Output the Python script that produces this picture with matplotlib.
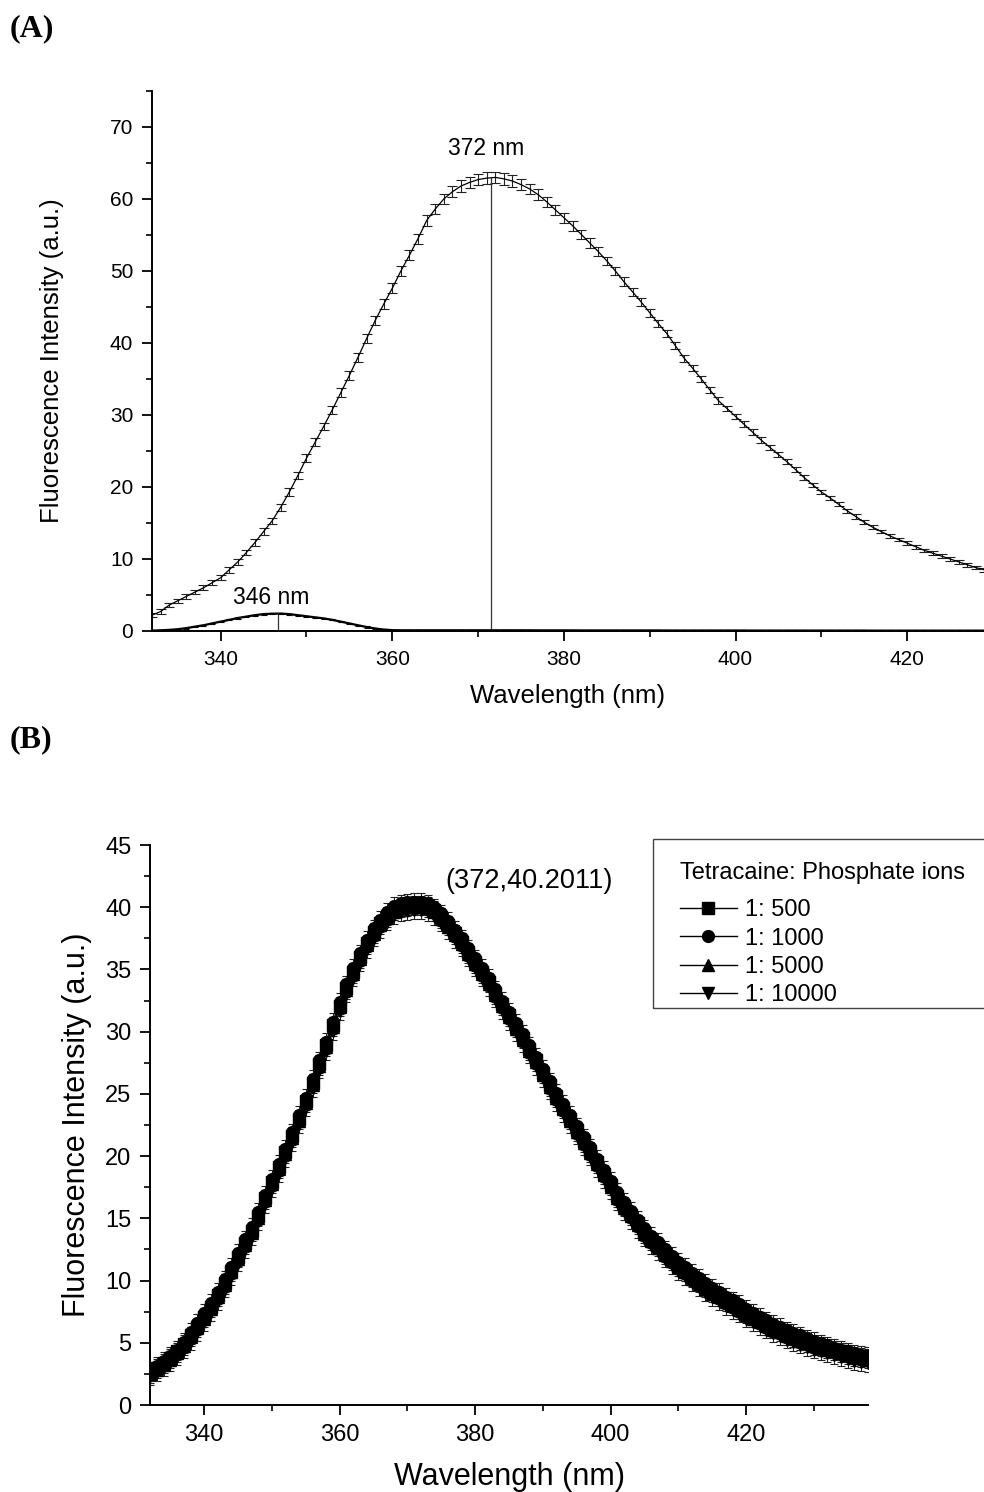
import matplotlib
matplotlib.use("Agg")
import matplotlib.pyplot as plt
from matplotlib.patches import Rectangle
from matplotlib.ticker import MultipleLocator

plt.rcParams['font.family'] = ['Liberation Sans', 'DejaVu Sans']

# ---- panel A data (1 nm steps, 332-429 nm) ----
wl_a = list(range(332, 430))
a_main = [2.2, 2.7, 3.6, 4.2, 4.8, 5.4, 6.0, 6.7, 7.4, 8.5,
          9.6, 10.9, 12.3, 13.8, 15.3, 17.2, 19.3, 21.6, 24.0, 26.2,
          28.4, 30.7, 33.1, 35.5, 38.0, 40.6, 43.1, 45.4, 47.6, 50.0,
          52.2, 54.5, 57.0, 58.6, 60.0, 61.0, 61.8, 62.3, 62.7, 62.9,
          63.0, 62.8, 62.5, 62.0, 61.4, 60.6, 59.6, 58.5, 57.4, 56.3,
          55.1, 53.9, 52.7, 51.4, 50.0, 48.5, 47.1, 45.7, 44.2, 42.7,
          41.3, 39.6, 37.9, 36.5, 35.0, 33.5, 32.0, 30.9, 29.8, 28.7,
          27.6, 26.5, 25.5, 24.5, 23.5, 22.4, 21.3, 20.3, 19.3, 18.5,
          17.6, 16.7, 15.9, 15.1, 14.4, 13.8, 13.2, 12.7, 12.2, 11.7,
          11.2, 10.8, 10.4, 10.0, 9.6, 9.2, 8.8, 8.5]
a_main_err = [0.3, 0.3, 0.3, 0.3, 0.3, 0.3, 0.35, 0.35, 0.35, 0.4,
              0.4, 0.4, 0.45, 0.45, 0.45, 0.5, 0.5, 0.5, 0.55, 0.55,
              0.55, 0.6, 0.6, 0.6, 0.6, 0.65, 0.65, 0.65, 0.7, 0.7,
              0.7, 0.7, 0.75, 0.75, 0.75, 0.75, 0.8, 0.8, 0.8, 0.8,
              0.8, 0.8, 0.8, 0.75, 0.75, 0.75, 0.7, 0.7, 0.7, 0.7,
              0.65, 0.65, 0.65, 0.6, 0.6, 0.6, 0.55, 0.55, 0.55, 0.5,
              0.5, 0.5, 0.5, 0.45, 0.45, 0.45, 0.45, 0.4, 0.4, 0.4,
              0.4, 0.4, 0.35, 0.35, 0.35, 0.35, 0.35, 0.3, 0.3, 0.3,
              0.3, 0.3, 0.3, 0.3, 0.3, 0.25, 0.25, 0.25, 0.25, 0.25,
              0.25, 0.25, 0.25, 0.25, 0.25, 0.25, 0.25, 0.25]
a_small = [0.05, 0.1, 0.15, 0.25, 0.4, 0.6, 0.8, 1.05, 1.3, 1.55,
           1.8, 2.0, 2.2, 2.35, 2.4, 2.42, 2.35, 2.2, 2.05, 1.9,
           1.75, 1.55, 1.3, 1.05, 0.8, 0.55, 0.35, 0.2, 0.12, 0.1,
           0.1, 0.1, 0.1, 0.1, 0.1, 0.1, 0.1, 0.1, 0.1, 0.1,
           0.1, 0.1, 0.1, 0.1, 0.1, 0.09, 0.09, 0.09, 0.09, 0.09,
           0.08, 0.08, 0.08, 0.08, 0.08, 0.08, 0.08, 0.08, 0.08, 0.08,
           0.07, 0.07, 0.07, 0.07, 0.07, 0.07, 0.07, 0.07, 0.07, 0.07,
           0.06, 0.06, 0.06, 0.06, 0.06, 0.06, 0.06, 0.06, 0.06, 0.06,
           0.06, 0.06, 0.06, 0.06, 0.05, 0.05, 0.05, 0.05, 0.05, 0.05,
           0.05, 0.05, 0.05, 0.05, 0.05, 0.05, 0.05, 0.05]
a_small_err = 0.08
peak_main = (371.5, 62.9)
peak_small = (346.7, 2.42)

# ---- panel B data (1 nm steps, 332-438 nm) ----
wl_b = list(range(332, 439))
b_500 = [2.6, 3.0, 3.4, 3.8, 4.3, 4.9, 5.6, 6.3, 7.1, 7.9,
         8.8, 9.8, 10.8, 11.9, 13.0, 14.0, 15.2, 16.6, 17.9, 19.1,
         20.3, 21.6, 23.0, 24.4, 25.9, 27.4, 28.9, 30.5, 32.1, 33.5,
         34.8, 36.0, 37.1, 38.0, 38.7, 39.3, 39.8, 40.0, 40.1, 40.18,
         40.2011, 40.1, 39.8, 39.2, 38.6, 37.9, 37.2, 36.4, 35.6, 34.8,
         34.0, 33.1, 32.2, 31.3, 30.4, 29.5, 28.6, 27.7, 26.7, 25.7,
         24.8, 23.9, 23.0, 22.1, 21.2, 20.4, 19.5, 18.6, 17.7, 16.8,
         16.0, 15.3, 14.6, 13.9, 13.3, 12.8, 12.2, 11.7, 11.2, 10.8,
         10.3, 9.9, 9.5, 9.1, 8.8, 8.4, 8.1, 7.8, 7.4, 7.1,
         6.8, 6.5, 6.2, 6.0, 5.7, 5.5, 5.3, 5.1, 4.9, 4.75,
         4.6, 4.45, 4.3, 4.15, 4.0, 3.9, 3.8]
b_1000 = [2.75, 3.15, 3.55, 3.95, 4.45, 5.1, 5.9, 6.6, 7.4, 8.2,
          9.1, 10.1, 11.1, 12.2, 13.3, 14.3, 15.5, 16.9, 18.2, 19.4,
          20.6, 21.9, 23.3, 24.7, 26.2, 27.7, 29.2, 30.8, 32.4, 33.8,
          35.1, 36.3, 37.4, 38.3, 39.0, 39.6, 40.1, 40.3, 40.4, 40.45,
          40.45, 40.3, 40.0, 39.5, 38.9, 38.2, 37.5, 36.7, 35.9, 35.1,
          34.3, 33.4, 32.5, 31.6, 30.7, 29.8, 28.9, 28.0, 27.0, 26.0,
          25.1, 24.2, 23.3, 22.4, 21.5, 20.7, 19.8, 18.9, 18.0, 17.1,
          16.3, 15.6, 14.9, 14.2, 13.6, 13.1, 12.5, 12.0, 11.5, 11.1,
          10.6, 10.2, 9.8, 9.4, 9.1, 8.7, 8.4, 8.1, 7.7, 7.4,
          7.1, 6.8, 6.5, 6.3, 6.0, 5.8, 5.6, 5.35, 5.15, 4.95,
          4.8, 4.6, 4.45, 4.3, 4.15, 4.05, 3.95]
b_5000 = [2.5, 2.85, 3.25, 3.65, 4.15, 4.75, 5.45, 6.15, 6.95, 7.75,
          8.65, 9.65, 10.65, 11.75, 12.85, 13.85, 15.05, 16.45, 17.75, 18.95,
          20.15, 21.45, 22.85, 24.25, 25.75, 27.25, 28.75, 30.35, 31.95, 33.35,
          34.65, 35.85, 36.95, 37.85, 38.55, 39.15, 39.65, 39.9, 40.0, 40.05,
          40.05, 39.9, 39.6, 39.05, 38.45, 37.75, 37.05, 36.25, 35.45, 34.65,
          33.85, 32.95, 32.05, 31.15, 30.25, 29.35, 28.45, 27.55, 26.55, 25.55,
          24.65, 23.75, 22.85, 21.95, 21.05, 20.25, 19.35, 18.45, 17.55, 16.65,
          15.85, 15.15, 14.45, 13.75, 13.15, 12.65, 12.05, 11.55, 11.05, 10.65,
          10.15, 9.75, 9.35, 8.95, 8.65, 8.25, 7.95, 7.65, 7.25, 6.95,
          6.65, 6.35, 6.05, 5.85, 5.55, 5.35, 5.15, 4.95, 4.75, 4.6,
          4.45, 4.3, 4.15, 4.0, 3.85, 3.75, 3.65]
b_10000 = [2.3, 2.65, 3.05, 3.45, 3.9, 4.5, 5.15, 5.85, 6.65, 7.45,
           8.35, 9.35, 10.35, 11.45, 12.55, 13.55, 14.75, 16.15, 17.45, 18.65,
           19.85, 21.15, 22.55, 23.95, 25.45, 26.95, 28.45, 30.05, 31.65, 33.05,
           34.35, 35.55, 36.65, 37.55, 38.25, 38.85, 39.35, 39.6, 39.7, 39.75,
           39.75, 39.6, 39.3, 38.75, 38.15, 37.45, 36.75, 35.95, 35.15, 34.35,
           33.55, 32.65, 31.75, 30.85, 29.95, 29.05, 28.15, 27.25, 26.25, 25.25,
           24.35, 23.45, 22.55, 21.65, 20.75, 19.95, 19.05, 18.15, 17.25, 16.35,
           15.55, 14.85, 14.15, 13.45, 12.85, 12.35, 11.75, 11.25, 10.75, 10.35,
           9.85, 9.45, 9.05, 8.65, 8.35, 7.95, 7.65, 7.35, 6.95, 6.65,
           6.35, 6.05, 5.75, 5.55, 5.25, 5.05, 4.85, 4.65, 4.45, 4.3,
           4.15, 4.0, 3.85, 3.7, 3.55, 3.45, 3.35]
b_err = 0.7
b_series = [b_500, b_1000, b_5000, b_10000]
b_labels = ['1: 500', '1: 1000', '1: 5000', '1: 10000']
b_markers = ['s', 'o', '^', 'v']
b_peak = (372, 40.2011)

W, H = 984, 1492
fig = plt.figure(figsize=(W / 100, H / 100), dpi=100)


def style_axes(ax, tick_size):
    for s in ['top', 'right']:
        ax.spines[s].set_visible(False)
    for s in ['left', 'bottom']:
        ax.spines[s].set_linewidth(1.4)
    ax.tick_params(which='major', direction='out', length=7.5, width=1.3,
                   labelsize=tick_size, pad=6)
    ax.tick_params(which='minor', direction='out', length=4, width=1.2)


# ---------------- panel A ----------------
axA = fig.add_axes([152 / W, 1 - 631 / H, (W - 152) / W, (631 - 91) / H])
axA.errorbar(wl_a, a_main, yerr=a_main_err, color='black', lw=0.9,
             ecolor='#222222', elinewidth=0.8, capsize=3.6, capthick=0.8)
axA.errorbar(wl_a, a_small, yerr=a_small_err, color='black', lw=1.6,
             ecolor='black', elinewidth=0.8, capsize=2.5, capthick=0.8)
axA.plot([peak_main[0], peak_main[0]], [0, peak_main[1]], color='#333333', lw=0.9)
axA.plot([peak_small[0], peak_small[0]], [0, peak_small[1]], color='#333333', lw=0.9)
axA.text(370.9, 67.0, '372 nm', ha='center', va='center', fontsize=16.5)
axA.text(345.9, 4.6, '346 nm', ha='center', va='center', fontsize=16.5)
axA.set_xlim(332, 428.95)
axA.set_ylim(0, 75)
axA.xaxis.set_major_locator(MultipleLocator(20))
axA.xaxis.set_minor_locator(MultipleLocator(10))
axA.yaxis.set_major_locator(MultipleLocator(10))
axA.yaxis.set_minor_locator(MultipleLocator(5))
style_axes(axA, 15)
axA.set_xlabel('Wavelength (nm)', fontsize=18.5, labelpad=11)
axA.set_ylabel('Fluorescence Intensity (a.u.)', fontsize=18.5, labelpad=33)

# ---------------- panel B ----------------
axB = fig.add_axes([150 / W, 1 - 1405 / H, (868 - 150) / W, (1405 - 845) / H])
handles = []
for vals, lab, mk in zip(b_series, b_labels, b_markers):
    cont = axB.errorbar(wl_b, vals, yerr=b_err, color='black', lw=1.0,
                        marker=mk, ms=8.5, mfc='black', mec='black',
                        ecolor='#222222', elinewidth=0.8, capsize=3, capthick=0.8,
                        label=lab)
    handles.append(cont.lines[0])
axB.text(375.6, 42.1, '(%d,%.4f)' % b_peak, ha='left', va='center', fontsize=19.5)
axB.set_xlim(332, 438)
axB.set_ylim(0, 45)
axB.xaxis.set_major_locator(MultipleLocator(20))
axB.xaxis.set_minor_locator(MultipleLocator(10))
axB.yaxis.set_major_locator(MultipleLocator(5))
axB.yaxis.set_minor_locator(MultipleLocator(2.5))
style_axes(axB, 17)
axB.set_xlabel('Wavelength (nm)', fontsize=22, labelpad=12)
axB.set_ylabel('Fluorescence Intensity (a.u.)', fontsize=22, labelpad=9)

leg = fig.legend(handles, b_labels, title='Tetracaine: Phosphate ions',
                 loc='upper left', bbox_to_anchor=(680 / W, 1 - 862 / H),
                 bbox_transform=fig.transFigure, frameon=False, fontsize=17,
                 title_fontsize=17, alignment='left', borderpad=0,
                 borderaxespad=0, handlelength=2.4, handletextpad=0.35,
                 labelspacing=0.27, numpoints=1, markerscale=1.0)
leg._legend_box.sep = 11
fig.patches.append(Rectangle((653 / W, 1 - 1008 / H), 0.5, (1008 - 839) / H,
                             transform=fig.transFigure, fill=False,
                             edgecolor='#444444', lw=1.0))

# panel letters
fig.text(10 / W, 1 - 29 / H, '(A)', fontsize=23, fontweight='bold',
         family='Liberation Serif', va='center', ha='left')
fig.text(10 / W, 1 - 740 / H, '(B)', fontsize=23, fontweight='bold',
         family='Liberation Serif', va='center', ha='left')

fig.savefig('out.png', dpi=100)
